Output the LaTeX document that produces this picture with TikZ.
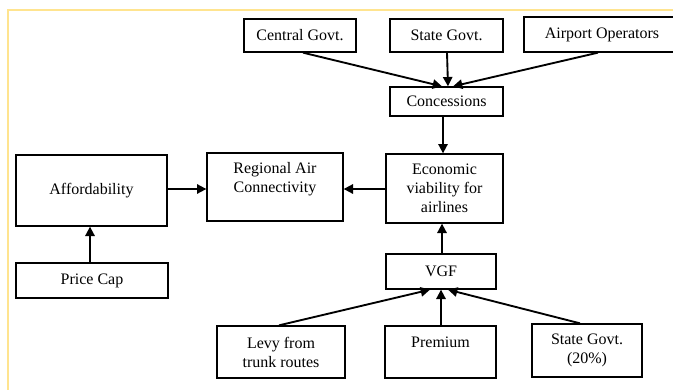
\documentclass[tikz,border=0pt]{standalone}
\usepackage{fontspec}
\setmainfont{Liberation Serif}
\usetikzlibrary{arrows.meta,calc}
\definecolor{frameyellow}{HTML}{FFE48F}
\tikzset{
  box/.style 2 args={draw, line width=1pt, rectangle, inner sep=0pt,
    minimum width=#1*0.75pt, minimum height=#2*0.75pt},
  lbl/.style={align=center, inner sep=0pt},
  flow/.style={line width=1.4pt, -{Triangle[length=7pt,width=7pt]}},
  every node/.style={font=\rmfamily\fontsize{12}{14.2}\selectfont}
}
\begin{document}
\begin{tikzpicture}[x=0.75pt,y=-0.75pt]
\useasboundingbox (0,0) rectangle (673,389);
\clip (0,0) rectangle (673,389);
\fill[white] (0,0) rectangle (673,389);
% page frame
\draw[frameyellow, line width=1.3pt] (8,395) -- (8,10) -- (680,10);

% funding sources for concessions
\node[box={112}{33}] (cg) at (300,35.5) {Central Govt.};
\node[box={113}{33}] (sg) at (446.5,35.5) {State Govt.};
\node[box={156}{35}] (ao) at (602,34.5) {Airport Operators};
\node[box={113}{29}] (con) at (446.5,101.5) {Concessions};

% central chain
\node[box={117}{69}, lbl] (eco) at (444.5,188.5) {Economic\\viability for\\airlines};
\node[box={136}{68}] (rac) at (275,187) {};
\node[lbl] at ($(rac)+(0,-7.5)$) {Regional Air\\Connectivity};
\node[box={151}{71}] (aff) at (91.5,190.5) {Affordability};
\node[box={152}{35}] (pc) at (92,280.5) {Price Cap};
\node[box={110}{35}] (vgf) at (441,271.5) {VGF};

% funding sources for VGF
\node[box={128}{52}, lbl] (levy) at (281,352) {Levy from\\trunk routes};
\node[box={111}{52}] (prem) at (440.5,352) {};
\node[lbl] at ($(prem)+(0,-10)$) {Premium};
\node[box={110}{53}, lbl] (sgp) at (587,350.5) {State Govt.\\(20\%)};

% connectors
\draw[flow] ($(cg.south)+(3,0)$) -- ($(con.north)+(-4.5,0)$);
\draw[flow] ($(sg.south)+(0.5,0)$) -- ($(con.north)+(1.5,0)$);
\draw[flow] ($(ao.south)+(-4,0)$) -- ($(con.north)+(6.5,0)$);
\draw[flow] ($(con.south)+(-3.5,0)$) -- ($(eco.north)+(-1.5,0)$);
\draw[flow] ($(eco.west)+(0,0.5)$) -- ($(rac.east)+(0,2)$);
\draw[flow] ($(aff.east)+(0,-1.5)$) -- ($(rac.west)+(0,2)$);
\draw[flow] ($(pc.north)+(-2,0)$) -- ($(aff.south)+(-1.5,0)$);
\draw[flow] ($(vgf.north)+(1,0)$) -- ($(eco.south)+(-2.5,0)$);
\draw[flow] ($(levy.north)+(-2,0)$) -- ($(vgf.south)+(-11,0)$);
\draw[flow] ($(prem.north)+(0.5,0)$) -- ($(vgf.south)+(0,0)$);
\draw[flow] ($(sgp.north)+(-7,0)$) -- ($(vgf.south)+(7,0)$);
\end{tikzpicture}
\end{document}
